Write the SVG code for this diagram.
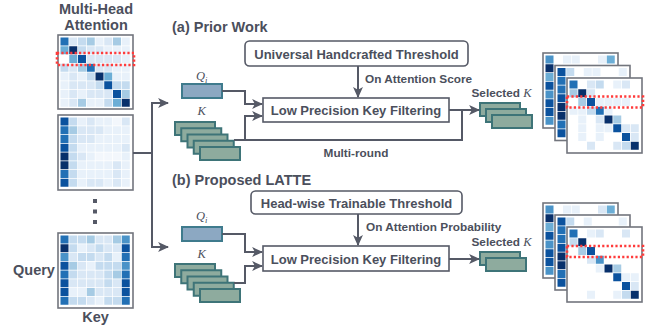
<svg xmlns="http://www.w3.org/2000/svg" width="652" height="329" viewBox="0 0 652 329">
<style>
text{font-family:"Liberation Sans",Arial,sans-serif;font-weight:bold;fill:#4b4f5c}
.t14{font-size:14.5px}
.t13{font-size:13px}
.t12{font-size:11.8px}
.math{font-family:"Liberation Serif","Times New Roman",serif;font-style:italic;font-weight:normal;font-size:12.5px}
.ln{fill:none;stroke:#555966;stroke-width:2}
.box{fill:#fff;stroke:#555966;stroke-width:1.6}
.q{fill:#8ca8c2;stroke:#3f7b8d;stroke-width:2}
.k{fill:#8eab9e;stroke:#3e7478;stroke-width:2}
.mb{fill:#fff;stroke:#72757d;stroke-width:1.6}
.red{fill:none;stroke:#ff3b3b;stroke-width:2.6;stroke-dasharray:2.2 2.2}
.c0{fill:#f3f7fc}.c1{fill:#e8f1fa}.c2{fill:#d9e7f5}.c3{fill:#c4dbef}.c4{fill:#a6cbe4}
.c5{fill:#6caed6}.c6{fill:#4a93c8}.c7{fill:#2270b5}.c8{fill:#0b529e}.c9{fill:#08306b}
.dot{fill:#555966}
</style>
<defs>
<marker id="ah" markerUnits="userSpaceOnUse" markerWidth="11" markerHeight="11" viewBox="0 0 10 10" refX="9" refY="5" orient="auto">
<path d="M0,0.5 L10,5 L0,9.5 L2.5,5 z" fill="#555966"/>
</marker>
<rect id="c" width="8" height="8"/>
</defs>

<!-- Left side: multi-head attention -->
<g id="title-mha">
<text class="t14" x="96" y="13.5" text-anchor="middle">Multi-Head</text>
<text class="t14" x="96" y="30" text-anchor="middle">Attention</text>
</g>

<g id="head1" transform="translate(58,35)">
<rect class="mb" width="75" height="74"/>
<use href="#c" x="2.5" y="2.5" class="c7"/><use href="#c" x="11.25" y="2.5" class="c2"/><use href="#c" x="20" y="2.5" class="c3"/><use href="#c" x="28.75" y="2.5" class="c4"/><use href="#c" x="37.5" y="2.5" class="c1"/><use href="#c" x="46.25" y="2.5" class="c2"/><use href="#c" x="55" y="2.5" class="c4"/><use href="#c" x="63.75" y="2.5" class="c1"/>
<use href="#c" x="2.5" y="11.25" class="c5"/><use href="#c" x="11.25" y="11.25" class="c9"/><use href="#c" x="20" y="11.25" class="c3"/><use href="#c" x="28.75" y="11.25" class="c2"/><use href="#c" x="37.5" y="11.25" class="c2"/><use href="#c" x="46.25" y="11.25" class="c1"/><use href="#c" x="55" y="11.25" class="c1"/><use href="#c" x="63.75" y="11.25" class="c1"/>
<use href="#c" x="11.25" y="20" class="c5"/><use href="#c" x="20" y="20" class="c8"/><use href="#c" x="28.75" y="20" class="c2"/><use href="#c" x="37.5" y="20" class="c2"/><use href="#c" x="46.25" y="20" class="c2"/><use href="#c" x="55" y="20" class="c2"/><use href="#c" x="63.75" y="20" class="c1"/>
<use href="#c" x="2.5" y="28.75" class="c3"/><use href="#c" x="11.25" y="28.75" class="c2"/><use href="#c" x="20" y="28.75" class="c4"/><use href="#c" x="28.75" y="28.75" class="c7"/><use href="#c" x="37.5" y="28.75" class="c2"/><use href="#c" x="46.25" y="28.75" class="c2"/><use href="#c" x="55" y="28.75" class="c1"/><use href="#c" x="63.75" y="28.75" class="c1"/>
<use href="#c" x="2.5" y="37.5" class="c1"/><use href="#c" x="11.25" y="37.5" class="c2"/><use href="#c" x="20" y="37.5" class="c1"/><use href="#c" x="28.75" y="37.5" class="c3"/><use href="#c" x="37.5" y="37.5" class="c9"/><use href="#c" x="46.25" y="37.5" class="c5"/><use href="#c" x="55" y="37.5" class="c1"/><use href="#c" x="63.75" y="37.5" class="c1"/>
<use href="#c" x="2.5" y="46.25" class="c1"/><use href="#c" x="11.25" y="46.25" class="c2"/><use href="#c" x="20" y="46.25" class="c2"/><use href="#c" x="28.75" y="46.25" class="c2"/><use href="#c" x="37.5" y="46.25" class="c3"/><use href="#c" x="46.25" y="46.25" class="c8"/><use href="#c" x="55" y="46.25" class="c3"/><use href="#c" x="63.75" y="46.25" class="c3"/>
<use href="#c" x="2.5" y="55" class="c1"/><use href="#c" x="11.25" y="55" class="c2"/><use href="#c" x="20" y="55" class="c1"/><use href="#c" x="28.75" y="55" class="c2"/><use href="#c" x="37.5" y="55" class="c2"/><use href="#c" x="46.25" y="55" class="c2"/><use href="#c" x="55" y="55" class="c8"/><use href="#c" x="63.75" y="55" class="c4"/>
<use href="#c" x="2.5" y="63.75" class="c1"/><use href="#c" x="11.25" y="63.75" class="c2"/><use href="#c" x="20" y="63.75" class="c4"/><use href="#c" x="28.75" y="63.75" class="c1"/><use href="#c" x="37.5" y="63.75" class="c1"/><use href="#c" x="46.25" y="63.75" class="c3"/><use href="#c" x="55" y="63.75" class="c5"/><use href="#c" x="63.75" y="63.75" class="c9"/>
<rect class="red" x="-1" y="18" width="77" height="12"/>
</g>

<g id="head2" transform="translate(58,115)">
<rect class="mb" width="75" height="75"/>
<use href="#c" x="2.5" y="2.5" class="c8"/><use href="#c" x="11.25" y="2.5" class="c3"/><use href="#c" x="20" y="2.5" class="c1"/><use href="#c" x="28.75" y="2.5" class="c2"/><use href="#c" x="37.5" y="2.5" class="c1"/><use href="#c" x="46.25" y="2.5" class="c1"/><use href="#c" x="55" y="2.5" class="c0"/><use href="#c" x="63.75" y="2.5" class="c2"/>
<use href="#c" x="2.5" y="11.25" class="c7"/><use href="#c" x="11.25" y="11.25" class="c4"/><use href="#c" x="20" y="11.25" class="c2"/><use href="#c" x="28.75" y="11.25" class="c2"/><use href="#c" x="37.5" y="11.25" class="c2"/><use href="#c" x="46.25" y="11.25" class="c1"/><use href="#c" x="55" y="11.25" class="c1"/><use href="#c" x="63.75" y="11.25" class="c1"/>
<use href="#c" x="2.5" y="20" class="c7"/><use href="#c" x="11.25" y="20" class="c3"/><use href="#c" x="20" y="20" class="c2"/><use href="#c" x="28.75" y="20" class="c2"/><use href="#c" x="37.5" y="20" class="c1"/><use href="#c" x="46.25" y="20" class="c1"/><use href="#c" x="55" y="20" class="c1"/><use href="#c" x="63.75" y="20" class="c1"/>
<use href="#c" x="2.5" y="28.75" class="c8"/><use href="#c" x="11.25" y="28.75" class="c3"/><use href="#c" x="20" y="28.75" class="c1"/><use href="#c" x="28.75" y="28.75" class="c1"/><use href="#c" x="37.5" y="28.75" class="c1"/><use href="#c" x="46.25" y="28.75" class="c1"/><use href="#c" x="55" y="28.75" class="c1"/><use href="#c" x="63.75" y="28.75" class="c2"/>
<use href="#c" x="2.5" y="37.5" class="c9"/><use href="#c" x="11.25" y="37.5" class="c3"/><use href="#c" x="20" y="37.5" class="c2"/><use href="#c" x="28.75" y="37.5" class="c1"/><use href="#c" x="37.5" y="37.5" class="c0"/><use href="#c" x="46.25" y="37.5" class="c0"/><use href="#c" x="55" y="37.5" class="c0"/><use href="#c" x="63.75" y="37.5" class="c1"/>
<use href="#c" x="2.5" y="46.25" class="c9"/><use href="#c" x="11.25" y="46.25" class="c3"/><use href="#c" x="20" y="46.25" class="c1"/><use href="#c" x="28.75" y="46.25" class="c1"/><use href="#c" x="37.5" y="46.25" class="c1"/><use href="#c" x="46.25" y="46.25" class="c1"/><use href="#c" x="55" y="46.25" class="c2"/><use href="#c" x="63.75" y="46.25" class="c1"/>
<use href="#c" x="2.5" y="55" class="c7"/><use href="#c" x="11.25" y="55" class="c3"/><use href="#c" x="20" y="55" class="c1"/><use href="#c" x="28.75" y="55" class="c1"/><use href="#c" x="37.5" y="55" class="c1"/><use href="#c" x="46.25" y="55" class="c1"/><use href="#c" x="55" y="55" class="c2"/><use href="#c" x="63.75" y="55" class="c1"/>
<use href="#c" x="2.5" y="63.75" class="c8"/><use href="#c" x="11.25" y="63.75" class="c3"/><use href="#c" x="20" y="63.75" class="c1"/><use href="#c" x="28.75" y="63.75" class="c2"/><use href="#c" x="37.5" y="63.75" class="c2"/><use href="#c" x="46.25" y="63.75" class="c1"/><use href="#c" x="55" y="63.75" class="c2"/><use href="#c" x="63.75" y="63.75" class="c1"/>
</g>

<g id="ellipsis">
<rect class="dot" x="93" y="199" width="4" height="4"/>
<rect class="dot" x="93" y="209.5" width="4" height="4"/>
<rect class="dot" x="93" y="220" width="4" height="4"/>
</g>

<g id="head3" transform="translate(58,233)">
<rect class="mb" width="75" height="75"/>
<use href="#c" x="2.5" y="2.5" class="c7"/><use href="#c" x="11.25" y="2.5" class="c3"/><use href="#c" x="20" y="2.5" class="c3"/><use href="#c" x="28.75" y="2.5" class="c4"/><use href="#c" x="37.5" y="2.5" class="c2"/><use href="#c" x="46.25" y="2.5" class="c2"/><use href="#c" x="55" y="2.5" class="c4"/><use href="#c" x="63.75" y="2.5" class="c6"/>
<use href="#c" x="2.5" y="11.25" class="c9"/><use href="#c" x="11.25" y="11.25" class="c3"/><use href="#c" x="20" y="11.25" class="c1"/><use href="#c" x="28.75" y="11.25" class="c2"/><use href="#c" x="37.5" y="11.25" class="c3"/><use href="#c" x="46.25" y="11.25" class="c2"/><use href="#c" x="55" y="11.25" class="c2"/><use href="#c" x="63.75" y="11.25" class="c8"/>
<use href="#c" x="2.5" y="20" class="c6"/><use href="#c" x="11.25" y="20" class="c2"/><use href="#c" x="20" y="20" class="c3"/><use href="#c" x="28.75" y="20" class="c3"/><use href="#c" x="37.5" y="20" class="c2"/><use href="#c" x="46.25" y="20" class="c3"/><use href="#c" x="55" y="20" class="c1"/><use href="#c" x="63.75" y="20" class="c7"/>
<use href="#c" x="2.5" y="28.75" class="c8"/><use href="#c" x="11.25" y="28.75" class="c4"/><use href="#c" x="20" y="28.75" class="c2"/><use href="#c" x="28.75" y="28.75" class="c1"/><use href="#c" x="37.5" y="28.75" class="c3"/><use href="#c" x="46.25" y="28.75" class="c3"/><use href="#c" x="55" y="28.75" class="c3"/><use href="#c" x="63.75" y="28.75" class="c6"/>
<use href="#c" x="2.5" y="37.5" class="c7"/><use href="#c" x="11.25" y="37.5" class="c3"/><use href="#c" x="20" y="37.5" class="c2"/><use href="#c" x="28.75" y="37.5" class="c2"/><use href="#c" x="37.5" y="37.5" class="c2"/><use href="#c" x="46.25" y="37.5" class="c3"/><use href="#c" x="55" y="37.5" class="c4"/><use href="#c" x="63.75" y="37.5" class="c7"/>
<use href="#c" x="2.5" y="46.25" class="c8"/><use href="#c" x="11.25" y="46.25" class="c2"/><use href="#c" x="20" y="46.25" class="c2"/><use href="#c" x="28.75" y="46.25" class="c2"/><use href="#c" x="37.5" y="46.25" class="c2"/><use href="#c" x="46.25" y="46.25" class="c3"/><use href="#c" x="55" y="46.25" class="c2"/><use href="#c" x="63.75" y="46.25" class="c8"/>
<use href="#c" x="2.5" y="55" class="c8"/><use href="#c" x="11.25" y="55" class="c1"/><use href="#c" x="20" y="55" class="c1"/><use href="#c" x="28.75" y="55" class="c4"/><use href="#c" x="37.5" y="55" class="c2"/><use href="#c" x="46.25" y="55" class="c2"/><use href="#c" x="55" y="55" class="c2"/><use href="#c" x="63.75" y="55" class="c8"/>
<use href="#c" x="2.5" y="63.75" class="c7"/><use href="#c" x="11.25" y="63.75" class="c3"/><use href="#c" x="20" y="63.75" class="c3"/><use href="#c" x="28.75" y="63.75" class="c2"/><use href="#c" x="37.5" y="63.75" class="c1"/><use href="#c" x="46.25" y="63.75" class="c3"/><use href="#c" x="55" y="63.75" class="c3"/><use href="#c" x="63.75" y="63.75" class="c7"/>
</g>

<g id="axis-labels">
<text class="t14" x="13" y="275">Query</text>
<text class="t14" x="95.5" y="322" text-anchor="middle">Key</text>
</g>

<!-- Section titles -->
<text id="title-a" class="t14" x="172" y="32">(a) Prior Work</text>
<text id="title-b" class="t14" x="172" y="185">(b) Proposed LATTE</text>

<!-- (a) nodes -->
<g id="thr-a">
<rect class="box" x="245" y="41" width="223" height="25" rx="4.5"/>
<text class="t13" x="356.5" y="59" text-anchor="middle">Universal Handcrafted Threshold</text>
</g>
<g id="q-a">
<text class="math" x="196" y="80">Q<tspan font-size="8.5" dy="2.5">i</tspan></text>
<rect class="q" x="182" y="84" width="40" height="14"/>
</g>
<g id="k-a">
<text class="math" x="197.5" y="115">K</text>
<rect class="k" x="175" y="122" width="40" height="13"/>
<rect class="k" x="181.25" y="128.25" width="40" height="13"/>
<rect class="k" x="187.5" y="134.5" width="40" height="13"/>
<rect class="k" x="193.75" y="140.75" width="40" height="13"/>
<rect class="k" x="200" y="147" width="40" height="13"/>
</g>
<g id="filter-a">
<rect class="box" x="263" y="98" width="186" height="24"/>
<text class="t13" x="356" y="114.5" text-anchor="middle">Low Precision Key Filtering</text>
</g>
<g id="sel-a">
<text class="t12" x="471.5" y="97">Selected <tspan class="math" font-size="12.5">K</tspan></text>
<rect class="k" x="480" y="103" width="40" height="13"/>
<rect class="k" x="486" y="109" width="40" height="13"/>
<rect class="k" x="492" y="115" width="40" height="13"/>
</g>
<g id="out-a">
<g transform="translate(543,53)">
<rect class="mb" width="75" height="75"/>
<use href="#c" x="2.5" y="2.5" class="c6"/><use href="#c" x="20" y="2.5" class="c1"/><use href="#c" x="28.75" y="2.5" class="c1"/><use href="#c" x="55" y="2.5" class="c1"/><use href="#c" x="63.75" y="2.5" class="c5"/>
<use href="#c" x="2.5" y="11.25" class="c9"/><use href="#c" x="2.5" y="20" class="c5"/><use href="#c" x="2.5" y="28.75" class="c8"/><use href="#c" x="2.5" y="37.5" class="c6"/><use href="#c" x="2.5" y="46.25" class="c8"/><use href="#c" x="2.5" y="55" class="c8"/><use href="#c" x="2.5" y="63.75" class="c6"/>
</g>
<g transform="translate(555,65.5)">
<rect class="mb" width="75" height="75"/>
<use href="#c" x="2.5" y="2.5" class="c8"/><use href="#c" x="11.25" y="2.5" class="c3"/><use href="#c" x="28.75" y="2.5" class="c1"/><use href="#c" x="37.5" y="2.5" class="c1"/><use href="#c" x="63.75" y="2.5" class="c1"/>
<use href="#c" x="2.5" y="11.25" class="c7"/><use href="#c" x="2.5" y="20" class="c7"/><use href="#c" x="2.5" y="28.75" class="c8"/><use href="#c" x="2.5" y="37.5" class="c9"/><use href="#c" x="2.5" y="46.25" class="c9"/><use href="#c" x="2.5" y="55" class="c7"/><use href="#c" x="2.5" y="63.75" class="c8"/>
</g>
<g transform="translate(567,78)">
<rect class="mb" width="75" height="75"/>
<use href="#c" x="2.5" y="2.5" class="c7"/><use href="#c" x="20" y="2.5" class="c2"/><use href="#c" x="28.75" y="2.5" class="c3"/><use href="#c" x="46.25" y="2.5" class="c1"/><use href="#c" x="55" y="2.5" class="c2"/>
<use href="#c" x="2.5" y="11.25" class="c4"/><use href="#c" x="11.25" y="11.25" class="c9"/><use href="#c" x="20" y="11.25" class="c2"/>
<use href="#c" x="11.25" y="20" class="c4"/><use href="#c" x="20" y="20" class="c8"/><use href="#c" x="28.75" y="20" class="c1"/><use href="#c" x="37.5" y="20" class="c1"/><use href="#c" x="46.25" y="20" class="c1"/><use href="#c" x="55" y="20" class="c1"/>
<use href="#c" x="2.5" y="28.75" class="c1"/><use href="#c" x="11.25" y="28.75" class="c1"/><use href="#c" x="20" y="28.75" class="c3"/><use href="#c" x="28.75" y="28.75" class="c7"/><use href="#c" x="37.5" y="28.75" class="c1"/>
<use href="#c" x="11.25" y="37.5" class="c1"/><use href="#c" x="28.75" y="37.5" class="c2"/><use href="#c" x="37.5" y="37.5" class="c9"/><use href="#c" x="46.25" y="37.5" class="c4"/>
<use href="#c" x="11.25" y="46.25" class="c1"/><use href="#c" x="28.75" y="46.25" class="c1"/><use href="#c" x="37.5" y="46.25" class="c1"/><use href="#c" x="46.25" y="46.25" class="c8"/><use href="#c" x="55" y="46.25" class="c2"/><use href="#c" x="63.75" y="46.25" class="c2"/>
<use href="#c" x="11.25" y="55" class="c1"/><use href="#c" x="28.75" y="55" class="c1"/><use href="#c" x="55" y="55" class="c8"/><use href="#c" x="63.75" y="55" class="c2"/>
<use href="#c" x="20" y="63.75" class="c2"/><use href="#c" x="46.25" y="63.75" class="c2"/><use href="#c" x="55" y="63.75" class="c3"/><use href="#c" x="63.75" y="63.75" class="c9"/>
<rect class="red" x="0" y="18.5" width="76" height="11"/>
</g>
</g>

<!-- (b) nodes -->
<g id="thr-b">
<rect class="box" x="251" y="191" width="211" height="23" rx="4.5"/>
<text class="t13" x="356.5" y="207.5" text-anchor="middle">Head-wise Trainable Threshold</text>
</g>
<g id="q-b">
<text class="math" x="196" y="220">Q<tspan font-size="8.5" dy="2.5">i</tspan></text>
<rect class="q" x="182" y="227" width="40" height="14"/>
</g>
<g id="k-b">
<text class="math" x="197.5" y="258">K</text>
<rect class="k" x="175" y="264" width="40" height="13"/>
<rect class="k" x="181.25" y="270.25" width="40" height="13"/>
<rect class="k" x="187.5" y="276.5" width="40" height="13"/>
<rect class="k" x="193.75" y="282.75" width="40" height="13"/>
<rect class="k" x="200" y="289" width="40" height="13"/>
</g>
<g id="filter-b">
<rect class="box" x="263" y="246" width="186" height="25"/>
<text class="t13" x="356" y="263.5" text-anchor="middle">Low Precision Key Filtering</text>
</g>
<g id="sel-b">
<text class="t12" x="471.5" y="246">Selected <tspan class="math" font-size="12.5">K</tspan></text>
<rect class="k" x="480" y="252" width="40" height="13"/>
<rect class="k" x="486" y="258" width="40" height="13"/>
</g>
<g id="out-b">
<g transform="translate(543,203)">
<rect class="mb" width="75" height="75"/>
<use href="#c" x="2.5" y="2.5" class="c6"/><use href="#c" x="20" y="2.5" class="c1"/><use href="#c" x="28.75" y="2.5" class="c1"/><use href="#c" x="55" y="2.5" class="c2"/><use href="#c" x="63.75" y="2.5" class="c5"/>
<use href="#c" x="2.5" y="11.25" class="c9"/><use href="#c" x="2.5" y="20" class="c5"/><use href="#c" x="2.5" y="28.75" class="c8"/><use href="#c" x="2.5" y="37.5" class="c6"/><use href="#c" x="2.5" y="46.25" class="c8"/><use href="#c" x="2.5" y="55" class="c8"/><use href="#c" x="2.5" y="63.75" class="c6"/>
</g>
<g transform="translate(555,215)">
<rect class="mb" width="75" height="75"/>
<use href="#c" x="2.5" y="2.5" class="c8"/><use href="#c" x="11.25" y="2.5" class="c3"/><use href="#c" x="28.75" y="2.5" class="c1"/><use href="#c" x="63.75" y="2.5" class="c1"/>
<use href="#c" x="2.5" y="11.25" class="c7"/><use href="#c" x="2.5" y="20" class="c7"/><use href="#c" x="2.5" y="28.75" class="c8"/><use href="#c" x="2.5" y="37.5" class="c9"/><use href="#c" x="2.5" y="46.25" class="c9"/><use href="#c" x="2.5" y="55" class="c7"/><use href="#c" x="2.5" y="63.75" class="c8"/>
</g>
<g transform="translate(567,227)">
<rect class="mb" width="75" height="75"/>
<use href="#c" x="2.5" y="2.5" class="c7"/><use href="#c" x="20" y="2.5" class="c1"/><use href="#c" x="28.75" y="2.5" class="c2"/><use href="#c" x="55" y="2.5" class="c2"/>
<use href="#c" x="2.5" y="11.25" class="c3"/><use href="#c" x="11.25" y="11.25" class="c9"/>
<use href="#c" x="11.25" y="20" class="c4"/><use href="#c" x="20" y="20" class="c8"/>
<use href="#c" x="20" y="28.75" class="c2"/><use href="#c" x="28.75" y="28.75" class="c6"/>
<use href="#c" x="28.75" y="37.5" class="c1"/><use href="#c" x="37.5" y="37.5" class="c9"/><use href="#c" x="46.25" y="37.5" class="c4"/>
<use href="#c" x="46.25" y="46.25" class="c8"/><use href="#c" x="55" y="46.25" class="c1"/><use href="#c" x="63.75" y="46.25" class="c1"/>
<use href="#c" x="55" y="55" class="c8"/><use href="#c" x="63.75" y="55" class="c2"/>
<use href="#c" x="20" y="63.75" class="c1"/><use href="#c" x="46.25" y="63.75" class="c1"/><use href="#c" x="55" y="63.75" class="c3"/><use href="#c" x="63.75" y="63.75" class="c9"/>
<rect class="red" x="0" y="19" width="76" height="11"/>
</g>
</g>

<!-- Connectors -->
<g id="connectors">
<path class="ln" d="M133,153 H152"/>
<path class="ln" d="M152,103 V247"/>
<path class="ln" d="M151,103 H168" marker-end="url(#ah)"/>
<path class="ln" d="M151,247 H168" marker-end="url(#ah)"/>
<path class="ln" d="M358,66 V97" marker-end="url(#ah)"/>
<path class="ln" d="M222,91 H245 V104 H262" marker-end="url(#ah)"/>
<path class="ln" d="M245,140 V116 H262" marker-end="url(#ah)"/>
<path class="ln" d="M449,110 H479" marker-end="url(#ah)"/>
<path class="ln" d="M462,110 V140 H234"/>
<text class="t12" x="356" y="83" dx="9" text-anchor="start">On Attention Score</text>
<text class="t12" x="356" y="157" text-anchor="middle">Multi-round</text>
<path class="ln" d="M358,214 V245" marker-end="url(#ah)"/>
<path class="ln" d="M222,234 H245 V252 H262" marker-end="url(#ah)"/>
<path class="ln" d="M234,283 H245 V266 H262" marker-end="url(#ah)"/>
<path class="ln" d="M449,259 H479" marker-end="url(#ah)"/>
<text class="t12" x="366" y="231">On Attention Probability</text>
</g>
</svg>
